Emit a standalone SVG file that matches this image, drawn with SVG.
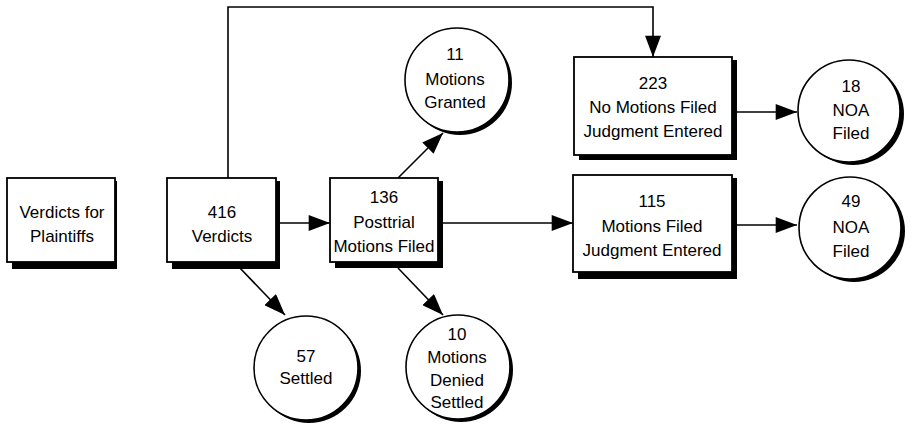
<svg xmlns="http://www.w3.org/2000/svg" width="913" height="425" viewBox="0 0 913 425">
<defs>
<marker id="ahb" viewBox="0 0 16 12" refX="16" refY="6" markerWidth="22" markerHeight="16" markerUnits="userSpaceOnUse" orient="auto">
<path d="M0,0 L16,6 L0,12 z" fill="#000"/>
</marker>
</defs>
<style>
.box{fill:#fff;stroke:#000;stroke-width:1.8}
.sh{fill:#000}
.cir{fill:#fff;stroke:#000;stroke-width:1.6}
.t{font-family:"Liberation Sans","Open Sans",sans-serif;font-size:17px;text-anchor:middle;fill:#000}
.c{fill:none;stroke:#000;stroke-width:1.6}
</style>
<rect width="913" height="425" fill="#fff"/>
<g id="connectors">
<path class="c" d="M228,178 V7 H653 V57" marker-end="url(#ahb)"/>
<path class="c" d="M280,223 H330" marker-end="url(#ahb)"/>
<path class="c" d="M443,223 H573" marker-end="url(#ahb)"/>
<path class="c" d="M398,178 L443,133" marker-end="url(#ahb)"/>
<path class="c" d="M238,266 L285,315" marker-end="url(#ahb)"/>
<path class="c" d="M398,268 L443,315" marker-end="url(#ahb)"/>
<path class="c" d="M737,112 H797" marker-end="url(#ahb)"/>
<path class="c" d="M737,225 H797" marker-end="url(#ahb)"/>
</g>
<g id="plaintiffs">
<rect class="sh" x="12" y="181" width="105" height="88"/>
<rect class="box" x="7" y="178" width="108" height="84"/>
<text class="t" x="62" y="218">Verdicts for</text>
<text class="t" x="62" y="242">Plaintiffs</text>
</g>
<g id="verdicts">
<rect class="sh" x="172" y="181" width="108" height="88"/>
<rect class="box" x="167" y="178" width="109" height="84"/>
<text class="t" x="222" y="218">416</text>
<text class="t" x="222" y="242">Verdicts</text>
</g>
<g id="posttrial">
<rect class="sh" x="335" y="181" width="108" height="87"/>
<rect class="box" x="330" y="178" width="108" height="84"/>
<text class="t" x="384" y="203">136</text>
<text class="t" x="384" y="228">Posttrial</text>
<text class="t" x="384" y="252">Motions Filed</text>
</g>
<g id="nomotions">
<rect class="sh" x="579" y="60" width="158" height="100"/>
<rect class="box" x="574" y="57" width="158" height="98"/>
<text class="t" x="653" y="89">223</text>
<text class="t" x="653" y="113">No Motions Filed</text>
<text class="t" x="653" y="137">Judgment Entered</text>
</g>
<g id="motionsfiled">
<rect class="sh" x="578" y="178" width="159" height="101"/>
<rect class="box" x="573" y="175" width="159" height="97"/>
<text class="t" x="652" y="207">115</text>
<text class="t" x="652" y="232">Motions Filed</text>
<text class="t" x="652" y="256">Judgment Entered</text>
</g>
<g id="granted">
<circle class="sh" cx="460" cy="83" r="52"/>
<circle class="cir" cx="457" cy="80" r="52"/>
<text class="t" x="455" y="60">11</text>
<text class="t" x="455" y="85">Motions</text>
<text class="t" x="455" y="108">Granted</text>
</g>
<g id="settled57">
<circle class="sh" cx="309" cy="371" r="52"/>
<circle class="cir" cx="306" cy="368" r="52"/>
<text class="t" x="306" y="362">57</text>
<text class="t" x="306" y="384">Settled</text>
</g>
<g id="denied">
<circle class="sh" cx="461" cy="370" r="52"/>
<circle class="cir" cx="458" cy="367" r="52"/>
<text class="t" x="457" y="340">10</text>
<text class="t" x="457" y="363">Motions</text>
<text class="t" x="457" y="386">Denied</text>
<text class="t" x="457" y="408">Settled</text>
</g>
<g id="noa18">
<circle class="sh" cx="853" cy="114" r="51"/>
<circle class="cir" cx="849" cy="111" r="51"/>
<text class="t" x="851" y="92">18</text>
<text class="t" x="851" y="116">NOA</text>
<text class="t" x="851" y="139">Filed</text>
</g>
<g id="noa49">
<circle class="sh" cx="854" cy="231" r="51"/>
<circle class="cir" cx="850" cy="228" r="51"/>
<text class="t" x="851" y="207">49</text>
<text class="t" x="851" y="233">NOA</text>
<text class="t" x="851" y="257">Filed</text>
</g>
</svg>
